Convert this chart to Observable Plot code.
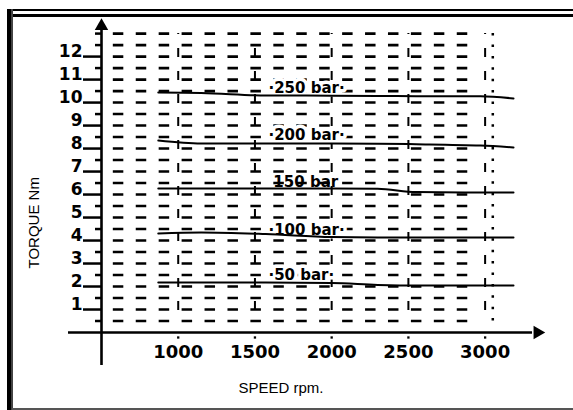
<!DOCTYPE html>
<html>
<head>
<meta charset="utf-8">
<script src="https://cdn.jsdelivr.net/npm/d3@7"></script>
<script src="https://cdn.jsdelivr.net/npm/@observablehq/plot@0.6"></script>
<style>
  html, body { margin: 0; padding: 0; background: #fff; }
  #wrap { position: relative; width: 573px; height: 410px; overflow: hidden; background: #fff; }
  #wrap svg { position: absolute; left: 0; top: 0; }
  .b { position: absolute; background: #000; }
</style>
</head>
<body>
<div id="wrap">
  <div id="chart"></div>
  <div class="b" style="left:7px; top:9px; right:0; height:2px;"></div>
  <div class="b" style="left:12px; top:14px; right:0; height:3px;"></div>
  <div class="b" style="left:7px; top:9px; width:4px; bottom:0;"></div>
  <div class="b" style="left:11px; top:9px; width:2px; bottom:0; background:#444;"></div>
  <div class="b" style="left:12px; bottom:0; right:0; height:2px; background:#555;"></div>
</div>
<script>
// ---- data ----
const xTickValues = [1000, 1500, 2000, 2500, 3000];
const xTickLabels = ["1000", "1500", "2000", "2500", "3000"];
const yTickValues = [1, 2, 3, 4, 5, 6, 7, 8, 9, 10, 11, 12];
const yTickLabels = ["1", "2", "3", "4", "5", "6", "7", "8", "9", "10", "11", "12"];
const yMinorTicks = [0.5, 1.5, 2.5, 3.5, 4.5, 5.5, 6.5, 7.5, 8.5, 9.5, 10.5, 11.5, 12.5, 13];
const gridRows = [0.5, 1, 1.5, 2, 2.5, 3, 3.5, 4, 4.5, 5, 5.5, 6, 6.5, 7, 7.5, 8, 8.5, 9, 9.5, 10, 10.5, 11, 11.5, 12, 12.5, 13];
const gridCols = [1000, 1500, 2000, 2500, 3000];
const dottedCol = [3050];

const pressureNames = ["250 bar", "200 bar", "150 bar", "100 bar", "50 bar"];
const pressureLabels = ["·250 bar·", "·200 bar·", "150 bar", "·100 bar·", "·50 bar·"];
const labelHalo = [true, true, false, true, true];
const labelSpeed = [1588, 1588, 1620, 1588, 1588];
const labelTorque = [10.61, 8.57, 6.52, 4.44, 2.48];

const curveSpeed = [870, 1150, 1570, 2000, 2300, 2550, 2970, 3185];
const torque250 = [10.44, 10.42, 10.31, 10.30, 10.29, 10.28, 10.27, 10.18];
const torque200 = [8.35, 8.22, 8.22, 8.22, 8.21, 8.19, 8.13, 8.05];
const torque150 = [6.26, 6.26, 6.26, 6.26, 6.25, 6.11, 6.09, 6.09];
const torque100 = [4.31, 4.35, 4.28, 4.15, 4.13, 4.13, 4.13, 4.13];
const torque50  = [2.17, 2.17, 2.17, 2.15, 2.07, 2.04, 2.04, 2.04];

const xTitle = "SPEED rpm.";
const yTitle = "TORQUE Nm";

// ---- tables built from arrays ----
const curves = [torque250, torque200, torque150, torque100, torque50];
const curveData = curves.flatMap((arr, k) =>
  arr.map((t, i) => ({series: pressureNames[k], speed: curveSpeed[i], torque: t})));
const labels = pressureLabels.map((t, i) => ({text: t, speed: labelSpeed[i], torque: labelTorque[i], halo: labelHalo[i]}));
const xTicks = xTickValues.map((v, i) => ({v, label: xTickLabels[i]}));
const yTicks = yTickValues.map((v, i) => ({v, label: yTickLabels[i]}));

const boldFont = "DejaVu Sans";

const chart = Plot.plot({
  width: 573,
  height: 410,
  marginLeft: 101,
  marginRight: 27,
  marginTop: 17,
  marginBottom: 78,
  x: {domain: [500, 3400], axis: null},
  y: {domain: [0, 13.7], axis: null},
  style: {background: "transparent", color: "black", fontFamily: "Liberation Sans, Arial, sans-serif", overflow: "visible"},
  marks: [
    // dashed grid
    Plot.ruleY(gridRows, {x1: 577, x2: 2889, stroke: "black", strokeWidth: 2.6, strokeDasharray: "10.5,12.43"}),
    Plot.ruleX(gridCols, {y1: 13, y2: 0.5, stroke: "black", strokeWidth: 2, strokeDasharray: "9,14", strokeDashoffset: 8}),
    Plot.ruleX(dottedCol, {y1: 13, y2: 0.5, stroke: "black", strokeWidth: 2.5, strokeDasharray: "2.5,8.9"}),
    // pressure labels
    Plot.text(labels.filter(d => d.halo), {x: "speed", y: "torque", text: "text", textAnchor: "start",
      fontFamily: boldFont, fontWeight: "bold", fontSize: 15, fill: "black", stroke: "white", strokeWidth: 7}),
    Plot.text(labels.filter(d => !d.halo), {x: "speed", y: "torque", text: "text", textAnchor: "start",
      fontFamily: boldFont, fontWeight: "bold", fontSize: 15, fill: "black"}),
    // curves
    Plot.line(curveData, {x: "speed", y: "torque", z: "series", stroke: "black", strokeWidth: 2, curve: "monotone-x"}),
    // axes lines
    Plot.ruleY([0], {x1: 285, x2: 3309, stroke: "black", strokeWidth: 2.6}),
    Plot.ruleX([500], {y1: -1.44, y2: 13.2, stroke: "black", strokeWidth: 2.6}),
    // arrow heads
    Plot.dot([{x: 500, y: 13.33}], {x: "x", y: "y", symbol: "triangle", r: 5, fill: "black", stroke: "none"}),
    Plot.dot([{x: 3341, y: 0}], {x: "x", y: "y", symbol: "triangle", r: 5, rotate: 90, fill: "black", stroke: "none"}),
    // y ticks
    Plot.axisY(yTickValues, {anchor: "left", tickSize: 18, tickFormat: () => "", strokeWidth: 2.5, label: null}),
    Plot.axisY(yMinorTicks, {anchor: "left", tickSize: 6, tickFormat: () => "", strokeWidth: 2.5, label: null}),
    Plot.text(yTicks, {y: "v", text: "label", frameAnchor: "left", dx: -19, dy: -5, textAnchor: "end",
      fontFamily: boldFont, fontWeight: "bold", fontSize: 17, fill: "black"}),
    // x ticks (small dots) and labels
    Plot.dot(xTickValues, {x: d => d, frameAnchor: "bottom", dy: 5, symbol: "square", r: 1.3, fill: "black", stroke: "none"}),
    Plot.text(xTicks, {x: "v", text: "label", frameAnchor: "bottom", dy: 25,
      fontFamily: boldFont, fontWeight: "bold", fontSize: 18, fill: "black"}),
    // axis titles
    Plot.text([yTitle], {text: d => d, frameAnchor: "bottom-left", dx: -63, dy: -64, rotate: -90, fontSize: 15, fill: "black"}),
    Plot.text([xTitle], {text: d => d, frameAnchor: "bottom-left", dx: 137, dy: 60, fontSize: 15, fill: "black"})
  ]
});
document.getElementById("chart").appendChild(chart);
</script>
</body>
</html>
